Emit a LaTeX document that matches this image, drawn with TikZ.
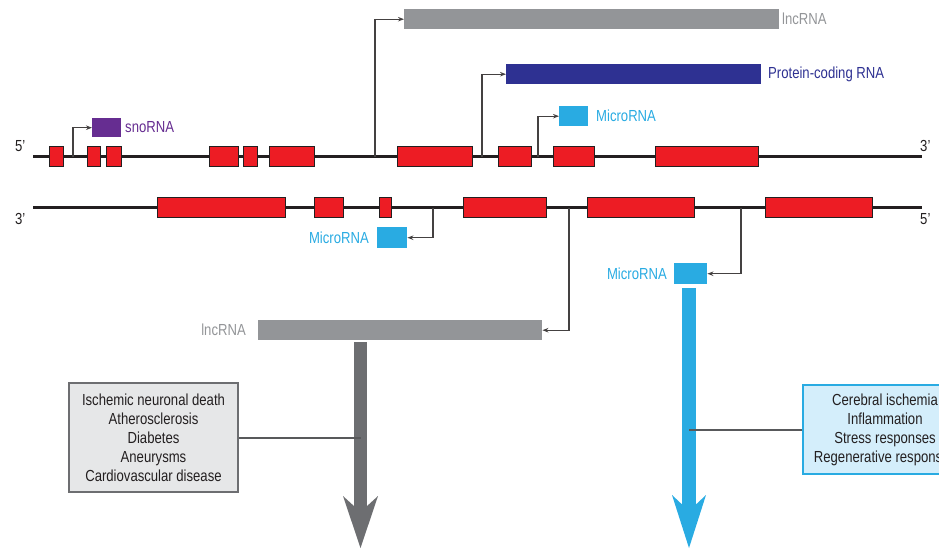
\documentclass[tikz,border=0pt]{standalone}
\usepackage{fontspec}
\setmainfont{Liberation Sans}[FakeStretch=0.82]
\usetikzlibrary{arrows.meta}

\definecolor{exred}{HTML}{ED1C24}
\definecolor{lncgray}{HTML}{939598}
\definecolor{pcblue}{HTML}{2E3192}
\definecolor{mirblue}{HTML}{29ABE2}
\definecolor{snopurple}{HTML}{662D91}
\definecolor{shaftgray}{HTML}{6D6E71}
\definecolor{linkgray}{HTML}{58595B}
\definecolor{boxgray}{HTML}{E6E7E8}
\definecolor{boxblue}{HTML}{D4EEFB}
\definecolor{ink}{HTML}{231F20}

\tikzset{
  strand/.style={draw=ink, line width=2.6pt},
  exon/.style={draw=ink, line width=1.3pt, fill=exred, inner sep=0pt,
    minimum height=20pt, anchor=west},
  rna/.style={inner sep=0pt, anchor=north west},
  conn/.style={draw=ink!85, line width=1.1pt,
    -{Stealth[length=6pt,width=4.5pt]}},
  lab/.style={inner sep=0pt, font=\fontsize{16}{18}\selectfont},
  endlab/.style={inner sep=0pt, font=\fontsize{16}{18}\selectfont, text=ink},
  fate/.style={line width=1.3pt, inner sep=0pt, align=center,
    font=\fontsize{16}{19}\selectfont, text=ink},
  link/.style={draw=linkgray, line width=2pt}
}

\begin{document}
\begin{tikzpicture}[x=1pt,y=-1pt]
\useasboundingbox (0,0) rectangle (939,549);
\clip (0,0) rectangle (939,549);

% ---------- upper strand (5' -> 3') ----------
\coordinate (tA) at (33,156.5);
\coordinate (tB) at (922,156.5);
\draw[strand] (tA) -- (tB);
\node[endlab, anchor=south west] (t5) at (15,152) {5'};
\node[endlab, anchor=south west] (t3) at (920,152) {3'};

\foreach \n/\a/\b in {e1/49/63, e2/87/100, e3/106/121, e4/209/238,
  e5/243/257, e6/269/314, e7/397/472, e8/498/531, e9/553/594, e10/655/758}
  \node[exon, minimum width=\b pt-\a pt] (\n) at (\a,156.5) {};

% transcripts from the upper strand
\node[rna, fill=snopurple, minimum width=29pt, minimum height=19pt] (sno) at (92,118) {};
\node[lab, text=snopurple, anchor=west] (snoL) at (125,127.5) {snoRNA};
\coordinate (sSite) at (73,156.5);
\draw[conn] (sSite) |- (sno.west);

\node[rna, fill=lncgray, minimum width=375pt, minimum height=20pt] (lncT) at (404,9) {};
\node[lab, text=lncgray, anchor=west] (lncTL) at (782,19) {lncRNA};
\coordinate (lSite) at (375,156.5);
\draw[conn] (lSite) |- (lncT.west);

\node[rna, fill=pcblue, minimum width=255pt, minimum height=20pt] (pc) at (506,64) {};
\node[lab, text=pcblue, anchor=west] (pcL) at (768,74) {Protein-coding RNA};
\coordinate (pSite) at (482,156.5);
\draw[conn] (pSite) |- (pc.west);

\node[rna, fill=mirblue, minimum width=29pt, minimum height=20pt] (mirT) at (559,106) {};
\node[lab, text=mirblue, anchor=west] (mirTL) at (596,116) {MicroRNA};
\coordinate (mSite) at (538,156.5);
\draw[conn] (mSite) |- (mirT.west);

% ---------- lower strand (3' -> 5') ----------
\coordinate (bA) at (33,207.5);
\coordinate (bB) at (922,207.5);
\draw[strand] (bA) -- (bB);
\node[endlab, anchor=north west] (b3) at (15,213) {3'};
\node[endlab, anchor=north west] (b5) at (920,213) {5'};

\foreach \n/\a/\b in {f1/157/285, f2/314/343, f3/379/391, f4/463/546,
  f5/587/694, f6/765/872}
  \node[exon, minimum width=\b pt-\a pt] (\n) at (\a,207.5) {};

% transcripts from the lower strand
\node[rna, fill=mirblue, minimum width=30pt, minimum height=21pt] (mirB) at (377,227) {};
\node[lab, text=mirblue, anchor=east] (mirBL) at (369,237.5) {MicroRNA};
\coordinate (qSite) at (433,207.5);
\draw[conn] (qSite) |- (mirB.east);

\node[rna, fill=mirblue, minimum width=33pt, minimum height=21pt] (mirR) at (674,263) {};
\node[lab, text=mirblue, anchor=east] (mirRL) at (667,273.5) {MicroRNA};
\coordinate (rSite) at (741,207.5);
\draw[conn] (rSite) |- (mirR.east);

\node[rna, fill=lncgray, minimum width=284pt, minimum height=20pt] (lncB) at (258,320) {};
\node[lab, text=lncgray, anchor=east] (lncBL) at (246,330) {lncRNA};
\coordinate (uSite) at (569,207.5);
\draw[conn] (uSite) |- (lncB.east);

% ---------- downstream effects ----------
\coordinate (gTip) at (360.5,548);
\draw[draw=shaftgray, line width=13pt, shorten <=2pt,
  -{Stealth[length=52pt,width=35pt,inset=16pt,line width=0pt]}]
  (gTip |- lncB.south) -- (gTip);

\coordinate (bTip) at (689,548);
\draw[draw=mirblue, line width=14pt, shorten <=4pt,
  -{Stealth[length=53pt,width=34pt,inset=16pt,line width=0pt]}]
  (bTip |- mirR.south) -- (bTip);

\node[fate, draw=shaftgray, fill=boxgray, minimum width=169pt, minimum height=109pt]
  (gbox) at (153.5,437.5)
  {Ischemic neuronal death\\Atherosclerosis\\Diabetes\\Aneurysms\\Cardiovascular disease};
\draw[link] (gbox.east) -- (gbox.east -| gTip);

\node[fate, draw=mirblue, fill=boxblue, minimum width=164pt, minimum height=89pt]
  (bbox) at (885,429.5)
  {Cerebral ischemia\\Inflammation\\Stress responses\\Regenerative responses};
\draw[link] (bbox.west) -- (bbox.west -| bTip);
\end{tikzpicture}
\end{document}
